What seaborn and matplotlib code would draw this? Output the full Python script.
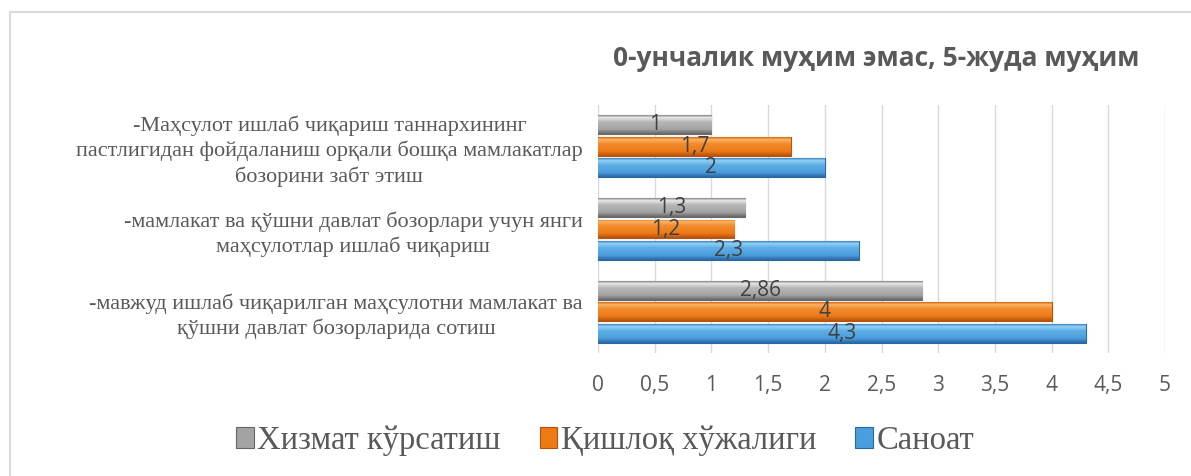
import numpy as np
import pandas as pd
import matplotlib
matplotlib.use("Agg")
import matplotlib.pyplot as plt
import matplotlib.colors as mcolors
from matplotlib.patches import Patch, Rectangle
import seaborn as sns

# data
categories = [
    "-Маҳсулот ишлаб чиқариш таннархининг\nпастлигидан фойдаланиш орқали бошқа мамлакатлар\nбозорини забт этиш",
    "-мамлакат ва қўшни давлат бозорлари учун янги\nмаҳсулотлар ишлаб чиқариш",
    "-мавжуд ишлаб чиқарилган маҳсулотни мамлакат ва\nқўшни давлат бозорларида сотиш",
]
series = ["Хизмат кўрсатиш", "Қишлоқ хўжалиги", "Саноат"]
services = [1, 1.3, 2.86]
agriculture = [1.7, 1.2, 4]
industry = [2, 2.3, 4.3]
xticks = [0, 0.5, 1, 1.5, 2, 2.5, 3, 3.5, 4, 4.5, 5]
title = "0-унчалик муҳим эмас, 5-жуда муҳим"

rows = []
for name, vals in zip(series, [services, agriculture, industry]):
    for cat, v in zip(categories, vals):
        rows.append({"category": cat, "series": name, "value": v})
df = pd.DataFrame(rows)

# light, mid, dark for the bevelled Excel look
shades = {
    "Хизмат кўрсатиш": ("#e8e8e8", "#a3a3a3", "#666666"),
    "Қишлоқ хўжалиги": ("#fbb466", "#ee7a16", "#b5520e"),
    "Саноат": ("#92d2f6", "#4a9ede", "#2a67a3"),
}
palette = {k: v[1] for k, v in shades.items()}

sns.set_style("white")
fig = plt.figure(figsize=(11.91, 4.76), dpi=100)
ax = fig.add_axes([598 / 1191, 1 - 353 / 476, 567 / 1191, 248 / 476])

sns.barplot(data=df, x="value", y="category", hue="series", hue_order=series,
            order=categories, palette=palette, orient="h", width=0.78, gap=0.12,
            legend=False, ax=ax)

# gradient fill on each bar
for cont, name in zip(ax.containers, series):
    light, mid, dark = [np.array(mcolors.to_rgb(c)) for c in shades[name]]
    t = np.linspace(0, 1, 64)
    stops = [(0.0, dark * 0.5 + mid * 0.5), (0.12, light), (0.35, light * 0.3 + mid * 0.7),
             (0.75, mid), (1.0, dark)]
    grad = np.zeros((64, 1, 3))
    for ch in range(3):
        grad[:, 0, ch] = np.interp(t, [s[0] for s in stops], [s[1][ch] for s in stops])
    for p in cont.patches:
        x0, y0, w, h = p.get_x(), p.get_y(), p.get_width(), p.get_height()
        im = ax.imshow(grad, extent=(x0, x0 + w, y0 + h, y0), origin="upper",
                       aspect="auto", zorder=2, interpolation="bilinear")
        im.set_clip_path(p)
        p.set_edgecolor(dark)
        p.set_linewidth(0.8)
    labels = [f"{v:g}".replace(".", ",") for v in cont.datavalues]
    ax.bar_label(cont, labels=labels, label_type="center", fontsize=15,
                 color="#404040", family="Open Sans", zorder=4)

ax.set_xlim(0, 5)
ax.set_ylim(2.5, -0.5)
ax.set_xticks(xticks)
ax.set_xticklabels([f"{v:g}".replace(".", ",") for v in xticks],
                   family="Open Sans", fontsize=15, color="#595959")
ax.tick_params(axis="x", length=0, pad=16)
ax.tick_params(axis="y", length=0, pad=11)
for lab in ax.get_yticklabels():
    lab.set_family("Liberation Serif")
    lab.set_fontsize(16)
    lab.set_color("#595959")
    lab.set_multialignment("center")
    lab.set_linespacing(1.3)
ax.grid(axis="x", color="#d9d9d9", lw=1)
ax.set_axisbelow(True)
for s in ax.spines.values():
    s.set_visible(False)
ax.set_xlabel("")
ax.set_ylabel("")

fig.text(876 / 1191, 1 - 58 / 476, title, ha="center", va="center",
         family="Open Sans", fontweight="bold", fontsize=19, color="#595959")

handles = [Patch(facecolor=shades[n][1], edgecolor=shades[n][2], lw=0.8) for n in series]
leg = fig.legend(handles, series, loc="center", bbox_to_anchor=(605 / 1191, 1 - 441 / 476),
                 ncol=3, frameon=False, prop={"family": "Liberation Serif", "size": 23.5},
                 handlelength=0.55, handleheight=0.6, handletextpad=0.1, columnspacing=1.2)
for t in leg.get_texts():
    t.set_color("#595959")

# chart area border
fig.patches.append(Rectangle((10 / 1191, -0.1), 1.2, 1.1 - 12 / 476, transform=fig.transFigure,
                             fill=False, edgecolor="#d9d9d9", lw=1.5))

fig.savefig("out.png", dpi=100)
